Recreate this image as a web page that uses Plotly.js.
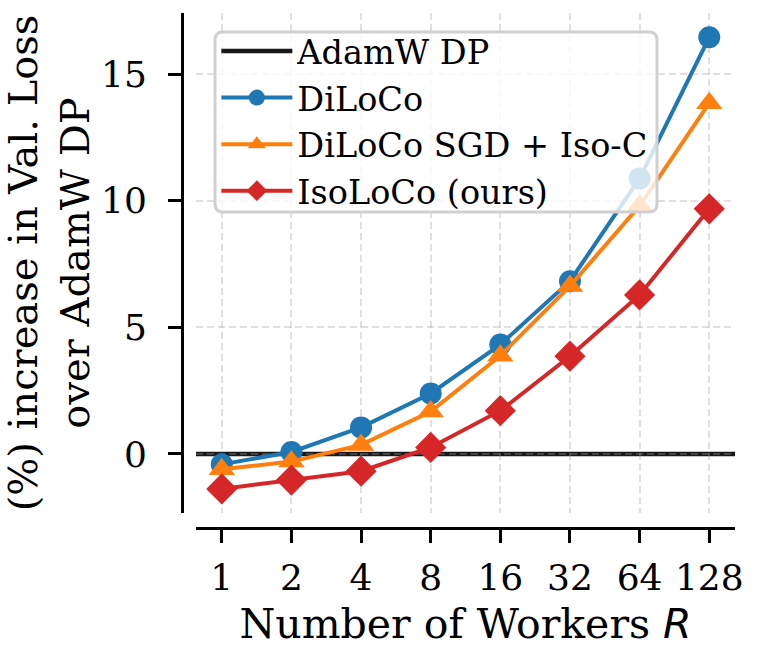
<!DOCTYPE html>
<html>
<head>
<meta charset="utf-8">
<script src="https://cdn.plot.ly/plotly-3.0.1.min.js"></script>
<style>
  html, body { margin: 0; padding: 0; background: #ffffff; }
  #chart { width: 760px; height: 666px; }
</style>
</head>
<body>
<div id="chart"></div>
<script>
// Number of workers R (equally spaced, powers of two)
const workers = ['1', '2', '4', '8', '16', '32', '64', '128'];

// (%) increase in validation loss relative to AdamW data-parallel training
const diloco = [-0.41, 0.08, 1.05, 2.39, 4.32, 6.82, 10.88, 16.45];
const dilocoSgdIsoC = [-0.60, -0.30, 0.36, 1.68, 3.88, 6.63, 9.80, 13.85];
const isoloco = [-1.38, -1.03, -0.68, 0.26, 1.71, 3.86, 6.28, 9.68];

// AdamW DP reference level
const adamwBaseline = 0;

const yTicks = [0, 5, 10, 15];

const serif = 'DejaVu Serif, serif';
const gridColor = 'rgba(160,160,160,0.32)';

const traces = [
  {
    x: workers, y: diloco, name: 'DiLoCo', type: 'scatter', mode: 'lines+markers',
    line: { color: '#1f77b4', width: 4 },
    marker: { symbol: 'circle', size: 22, color: '#1f77b4' }
  },
  {
    x: workers, y: dilocoSgdIsoC, name: 'DiLoCo SGD + Iso-C', type: 'scatter', mode: 'lines+markers',
    line: { color: '#ff7f0e', width: 4 },
    marker: { symbol: 'triangle-up', size: 23, color: '#ff7f0e' }
  },
  {
    x: workers, y: isoloco, name: 'IsoLoCo (ours)', type: 'scatter', mode: 'lines+markers',
    line: { color: '#d62728', width: 4 },
    marker: { symbol: 'diamond', size: 24, color: '#d62728' }
  }
];

// rounded legend frame, in paper units of the plotting area
const W = 554, H = 515;
function roundedRect(x0, y0, x1, y1, r) {
  const rx = r / W, ry = r / H;
  return `M${x0 + rx},${y1} L${x1 - rx},${y1} Q${x1},${y1} ${x1},${y1 - ry} ` +
         `L${x1},${y0 + ry} Q${x1},${y0} ${x1 - rx},${y0} L${x0 + rx},${y0} ` +
         `Q${x0},${y0} ${x0},${y0 + ry} L${x0},${y1 - ry} Q${x0},${y1} ${x0 + rx},${y1} Z`;
}

const layout = {
  width: 760, height: 666,
  margin: { l: 182, r: 24, t: 13, b: 138, pad: 0 },
  paper_bgcolor: '#ffffff', plot_bgcolor: '#ffffff',
  font: { family: serif, color: '#000000', size: 36 },
  showlegend: true,
  legend: {
    x: 0.062, y: 0.981, xanchor: 'left', yanchor: 'top',
    bgcolor: 'rgba(0,0,0,0)', borderwidth: 0,
    font: { family: serif, size: 33.5, color: '#000000' },
    itemwidth: 71, tracegroupgap: 0
  },
  xaxis: {
    type: 'category',
    range: [-0.37, 7.37],
    domain: [0.0253, 0.9982],
    anchor: 'free', position: 0,
    showline: true, linewidth: 3, linecolor: '#000000',
    ticks: 'outside', ticklen: 13, tickwidth: 3, tickcolor: '#000000',
    showgrid: true, gridcolor: gridColor, gridwidth: 2, griddash: '7px,4px',
    zeroline: false,
    tickfont: { family: serif, size: 36, color: '#000000' },
    ticklabelstandoff: 4,
    title: {
      text: 'Number of Workers <span style="font-family:DejaVu Sans"><i>R</i></span>',
      font: { family: serif, size: 41, color: '#000000' },
      standoff: 12
    }
  },
  yaxis: {
    range: [-2.33, 17.41],
    domain: [0.0291, 1],
    anchor: 'free', position: 0,
    showline: true, linewidth: 3, linecolor: '#000000',
    ticks: 'outside', ticklen: 13, tickwidth: 3, tickcolor: '#000000',
    tickmode: 'array', tickvals: yTicks, ticktext: yTicks.map(String),
    showgrid: true, gridcolor: gridColor, gridwidth: 2, griddash: '7px,4px',
    zeroline: false,
    tickfont: { family: serif, size: 36, color: '#000000' },
    ticklabelstandoff: 14,
    title: {
      text: '(%) increase in Val. Loss<br>over AdamW DP',
      font: { family: serif, size: 40, color: '#000000' },
      standoff: 16
    }
  },
  shapes: [
    {
      type: 'line', xref: 'x domain', yref: 'y',
      x0: 0, x1: 1, y0: adamwBaseline, y1: adamwBaseline,
      line: { color: 'rgba(0,0,0,0.9)', width: 4.5 },
      layer: 'below',
      showlegend: true, name: 'AdamW DP', legendrank: 1
    },
    {
      type: 'path', xref: 'paper', yref: 'paper', layer: 'above',
      path: roundedRect(0.0596, 0.6136, 0.8574, 0.9631, 8),
      fillcolor: 'rgba(255,255,255,0.8)',
      line: { color: '#d0d0d0', width: 3 }
    }
  ]
};

Plotly.newPlot('chart', traces, layout, { displayModeBar: false, staticPlot: true });
</script>
</body>
</html>
